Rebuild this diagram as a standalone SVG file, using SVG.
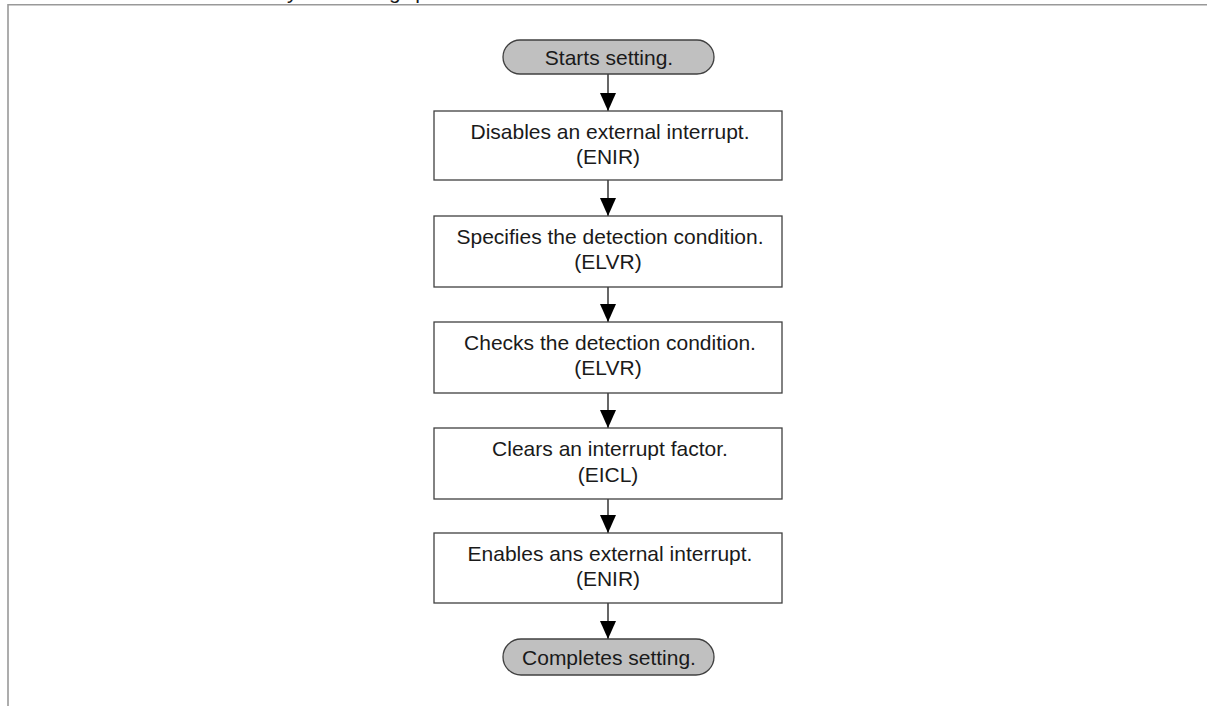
<svg xmlns="http://www.w3.org/2000/svg" width="1207" height="706" viewBox="0 0 1207 706">
  <style>
    .frame { stroke: #999999; stroke-width: 1.6; fill: none; }
    .box { fill: #ffffff; stroke: #404040; stroke-width: 1.3; }
    .term { fill: #c0c0c0; stroke: #404040; stroke-width: 1.3; }
    .lbl { font-family: "Liberation Sans", Arial, sans-serif; font-size: 21px; fill: #1a1a1a; text-anchor: middle; }
    .conn { stroke: #000000; stroke-width: 1.2; fill: none; }
  </style>
  <defs>
    <!-- filled arrowhead, drawn along +x so orient="auto" turns it down the line -->
    <marker id="arrow" viewBox="0 0 18 16" refX="18" refY="8" markerWidth="18" markerHeight="16" markerUnits="userSpaceOnUse" orient="auto">
      <path d="M0,0 L18,8 L0,16 Z" fill="#000000"/>
    </marker>
  </defs>
  <rect width="1207" height="706" fill="#ffffff"/>

  <!-- page frame and clipped caption -->
  <text class="lbl" x="287" y="-1" style="text-anchor:start" textLength="140" lengthAdjust="spacing">y setting p</text>
  <path class="frame" d="M8,706 L8,4.8 L1207,4.8"/>

  <!-- connectors -->
  <g id="connectors">
    <line class="conn" x1="608" y1="74" x2="608" y2="111" marker-end="url(#arrow)"/>
    <line class="conn" x1="608" y1="180" x2="608" y2="216" marker-end="url(#arrow)"/>
    <line class="conn" x1="608" y1="287" x2="608" y2="322" marker-end="url(#arrow)"/>
    <line class="conn" x1="608" y1="393" x2="608" y2="428" marker-end="url(#arrow)"/>
    <line class="conn" x1="608" y1="499" x2="608" y2="533" marker-end="url(#arrow)"/>
    <line class="conn" x1="608" y1="603" x2="608" y2="639" marker-end="url(#arrow)"/>
  </g>

  <g id="start">
    <rect class="term" x="503" y="40" width="211" height="34" rx="17" ry="17"/>
    <text class="lbl" x="609" y="65">Starts setting.</text>
  </g>

  <g id="step1">
    <rect class="box" x="434" y="111" width="348" height="69"/>
    <text class="lbl" x="610" y="139">Disables an external interrupt.</text>
    <text class="lbl" x="608" y="164">(ENIR)</text>
  </g>

  <g id="step2">
    <rect class="box" x="434" y="216" width="348" height="71"/>
    <text class="lbl" x="610" y="244">Specifies the detection condition.</text>
    <text class="lbl" x="608" y="269">(ELVR)</text>
  </g>

  <g id="step3">
    <rect class="box" x="434" y="322" width="348" height="71"/>
    <text class="lbl" x="610" y="350">Checks the detection condition.</text>
    <text class="lbl" x="608" y="375">(ELVR)</text>
  </g>

  <g id="step4">
    <rect class="box" x="434" y="428" width="348" height="71"/>
    <text class="lbl" x="610" y="456">Clears an interrupt factor.</text>
    <text class="lbl" x="608" y="482">(EICL)</text>
  </g>

  <g id="step5">
    <rect class="box" x="434" y="533" width="348" height="70"/>
    <text class="lbl" x="610" y="561">Enables ans external interrupt.</text>
    <text class="lbl" x="608" y="586">(ENIR)</text>
  </g>

  <g id="end">
    <rect class="term" x="503" y="639" width="211" height="36" rx="18" ry="18"/>
    <text class="lbl" x="609" y="665">Completes setting.</text>
  </g>
</svg>
